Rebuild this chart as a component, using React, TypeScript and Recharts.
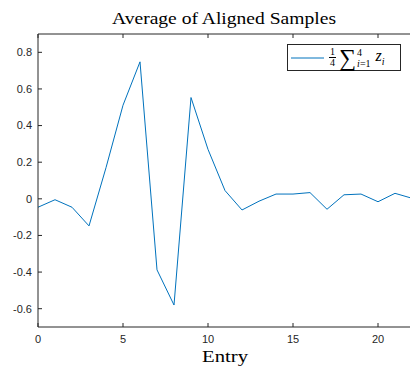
import React from "react";
import { LineChart, Line, XAxis, YAxis, Legend } from "recharts";

// x positions (entry index) and averaged values
const entries = [0, 1, 2, 3, 4, 5, 6, 7, 8, 9, 10, 11, 12, 13, 14, 15, 16, 17, 18, 19, 20, 21, 22];
const avgValues = [
  -0.046, -0.005, -0.046, -0.148, 0.17, 0.511, 0.748, -0.388, -0.58, 0.553, 0.27, 0.045,
  -0.061, -0.013, 0.026, 0.026, 0.034, -0.057, 0.022, 0.026, -0.016, 0.03, 0.003,
];
const xTicks = [0, 5, 10, 15, 20];
const yTicks = [-0.6, -0.4, -0.2, 0, 0.2, 0.4, 0.6, 0.8];

const data = entries.map((x, i) => ({ x, avg: avgValues[i] }));

const AXIS = "#262626";
const BLUE = "#0072BD";
const SANS = "'Liberation Sans', Arial, sans-serif";
const SERIF = "'Liberation Serif', 'Times New Roman', serif";

const fmtY = (v: number) => (v === 0 ? "0" : v.toFixed(1));

const LegendBox = () => (
  <div
    style={{
      width: 114,
      height: 27,
      border: `1px solid ${AXIS}`,
      background: "#fff",
      display: "flex",
      alignItems: "center",
      fontFamily: SERIF,
      color: "#000",
      boxSizing: "border-box",
    }}
  >
    <svg width={38} height={10} style={{ flex: "none" }}>
      <line x1={3} x2={36} y1={5} y2={5} stroke={BLUE} strokeWidth={1} />
    </svg>
    <div
      style={{
        display: "inline-flex",
        flexDirection: "column",
        alignItems: "center",
        fontSize: 10,
        lineHeight: "10px",
        marginLeft: 3,
      }}
    >
      <span style={{ borderBottom: "0.8px solid #000", padding: "0 1px" }}>1</span>
      <span>4</span>
    </div>
    <span style={{ fontSize: 24, marginLeft: 3, lineHeight: "22px" }}>{"\u2211"}</span>
    <div
      style={{
        display: "inline-flex",
        flexDirection: "column",
        fontSize: 10,
        lineHeight: "11px",
        marginLeft: 1,
      }}
    >
      <span>4</span>
      <span>
        <i>i</i>=1
      </span>
    </div>
    <span style={{ fontSize: 16, marginLeft: 5 }}>
      <i>z</i>
      <sub style={{ fontSize: 10 }}>
        <i>i</i>
      </sub>
    </span>
  </div>
);

export default function App() {
  return (
    <div style={{ position: "absolute", left: 0, top: 0, width: 410, height: 371, overflow: "hidden", background: "#fff" }}>
      <LineChart width={413} height={371} data={data} margin={{ top: 33, right: 0, bottom: 14, left: 0 }}>
        <XAxis
          dataKey="x"
          type="number"
          domain={[0, 22]}
          ticks={xTicks}
          allowDataOverflow
          height={30}
          stroke={AXIS}
          tickSize={-4}
          tickMargin={12}
          tick={{ fill: AXIS, fontSize: 11, fontFamily: SANS }}
        />
        <XAxis
          xAxisId="top"
          orientation="top"
          dataKey="x"
          type="number"
          domain={[0, 22]}
          ticks={xTicks}
          height={1}
          stroke={AXIS}
          tickSize={-4}
          tickFormatter={() => ""}
        />
        <YAxis
          type="number"
          domain={[-0.7, 0.9]}
          ticks={yTicks}
          allowDataOverflow
          width={38}
          stroke={AXIS}
          tickSize={-4}
          tickMargin={10}
          tickFormatter={fmtY}
          tick={{ fill: AXIS, fontSize: 11, fontFamily: SANS }}
        />
        <YAxis
          yAxisId="right"
          orientation="right"
          type="number"
          domain={[-0.7, 0.9]}
          ticks={yTicks}
          width={1}
          stroke={AXIS}
          tickSize={-4}
          tickFormatter={() => ""}
        />
        <Line
          type="linear"
          dataKey="avg"
          stroke={BLUE}
          strokeWidth={1}
          dot={false}
          isAnimationActive={false}
        />
        <Legend
          layout="vertical"
          align="center"
          verticalAlign="middle"
          content={() => <LegendBox />}
          wrapperStyle={{ top: 44, left: 287, width: 114 }}
        />
        <text
          x={224}
          y={24}
          textAnchor="middle"
          fontFamily={SERIF}
          fontSize={17}
          textLength={224}
          lengthAdjust="spacingAndGlyphs"
          fill="#000"
        >
          Average of Aligned Samples
        </text>
        <text
          x={225}
          y={362}
          textAnchor="middle"
          fontFamily={SERIF}
          fontSize={17}
          textLength={46}
          lengthAdjust="spacingAndGlyphs"
          fill="#000"
        >
          Entry
        </text>
      </LineChart>
    </div>
  );
}
